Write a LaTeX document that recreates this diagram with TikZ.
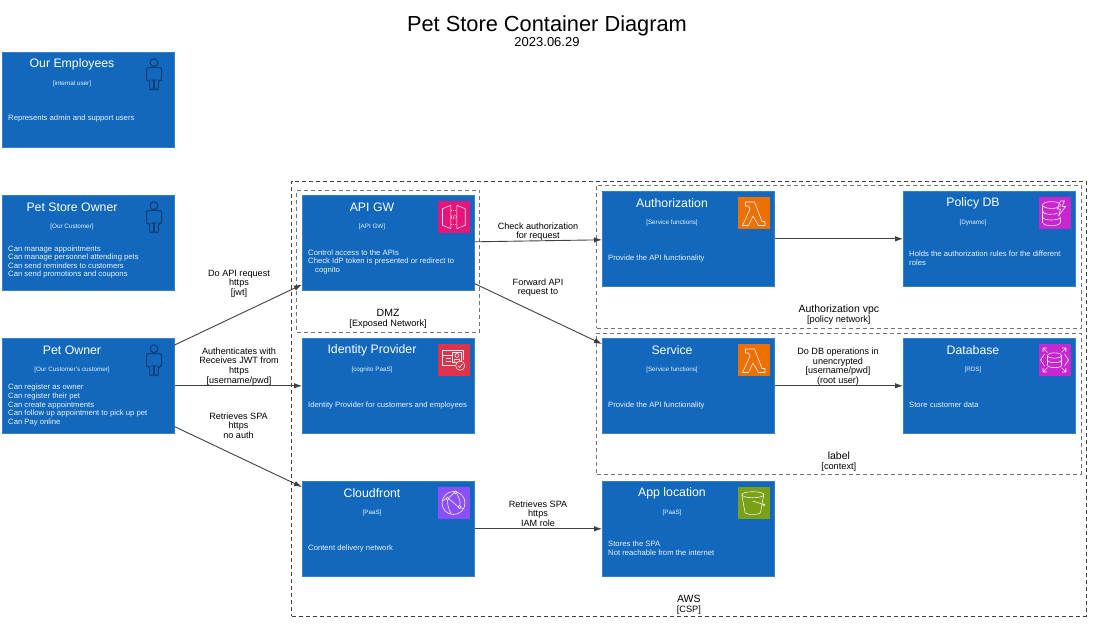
\documentclass[tikz,border=0pt]{standalone}
\usepackage{fontspec}
\setmainfont{Liberation Sans}
\usetikzlibrary{arrows.meta}
\definecolor{ctblue}{HTML}{1168BD}
\definecolor{ctedge}{HTML}{3C7FC0}
\definecolor{persondark}{HTML}{0B3C73}
\tikzset{
  ctbox/.style={draw=ctedge, fill=ctblue, line width=0.4pt, anchor=north west, outer sep=0pt,
    inner sep=0pt, minimum width=172.6pt, minimum height=95.6pt},
  cttitle/.style={text=white, inner sep=0pt, font=\fontsize{12.3}{15}\selectfont},
  cttech/.style={text=white!92!ctblue, inner sep=0pt, font=\fontsize{6.3}{7}\selectfont},
  ctdesc/.style={text=white!92!ctblue, inner sep=0pt, anchor=west, align=left, font=\fontsize{7.7}{8.6}\selectfont},
  edgelabel/.style={inner sep=0pt, align=center, font=\fontsize{9.1}{9.7}\selectfont},
  bndlabel/.style={inner sep=0pt, align=center, font=\fontsize{10.5}{10.2}\selectfont},
  boundary/.style={draw=#1, dashed, dash pattern=on 4pt off 3pt, line width=0.6pt, anchor=north west,
    outer sep=0pt, inner sep=0pt},
  boundary/.default=black!75,
  rel/.style={draw=black!75, line width=0.9pt, -{Latex[length=8pt,width=5.5pt]}},
  glyph/.style={draw=white!88!gray, line width=0.6pt, fill=none, line join=round},
  person/.pic={
    \draw[persondark, line width=1pt, fill=ctblue] (0,10.7) circle (3.9pt);
    \draw[persondark, line width=1pt, rounded corners=2pt] (-7.5,28.5) -- (-7.5,15.5) -- (7.5,15.5) -- (7.5,28.5)
      -- (4.3,28.5) -- (4.3,37.5) -- (0.4,37.5) -- (0.4,28) -- (-0.4,28) -- (-0.4,37.5) -- (-4.3,37.5)
      -- (-4.3,28.5) -- cycle;
  },
  lambdaicon/.pic={
    \fill[fill={rgb,255:red,237;green,113;blue,0}] (0,0) rectangle (32,32);
    \draw[glyph] (8,5) -- (8,9) -- (11,9) -- (12.5,12) -- (5,28.5) -- (11,28.5) -- (15.5,19) -- (21,28.5)
      -- (27.5,28.5) -- (27.5,24.5) -- (24.5,24.5) -- (17,5) -- cycle;
  },
  gatewayicon/.pic={
    \fill[fill={rgb,255:red,231;green,21;blue,123}] (0,0) rectangle (32,32);
    \draw[glyph] (5,7.7) -- (13.3,4.3) -- (13.3,27.7) -- (5,24.3) -- cycle;
    \draw[glyph] (27.7,7.7) -- (19.3,4.3) -- (19.3,27.7) -- (27.7,24.3) -- cycle;
    \draw[glyph, dash pattern=on 1pt off 1pt] (13.3,9.3) -- (19.3,9.3) (13.3,23) -- (19.3,23);
    \draw[glyph, line width=0.5pt] (14.5,14.5) -- (13.3,16) -- (14.5,17.5) (18,14.5) -- (19.3,16) -- (18,17.5)
      (16.8,14) -- (15.6,18);
  },
  dynamoicon/.pic={
    \fill[fill={rgb,255:red,201;green,37;blue,209}] (0,0) rectangle (32,32);
    \draw[glyph] (13,8) ellipse [x radius=9, y radius=3.4];
    \draw[glyph] (4,8) -- (4,25) .. controls (4,30) and (22,30) .. (22,25) -- (22,21);
    \draw[glyph] (4,14) .. controls (4,18) and (16,18) .. (19,16);
    \draw[glyph] (4,20) .. controls (4,24) and (22,24) .. (22,20);
    \draw[glyph] (22,4) -- (18.5,12) -- (22,12) -- (20,19) -- (27,9.5) -- (23.5,9.5) -- (26,4) -- cycle;
  },
  identityicon/.pic={
    \fill[fill={rgb,255:red,221;green,52;blue,76}] (0,0) rectangle (32,32);
    \draw[glyph] (19,21) -- (5,21) -- (5,6) -- (26,6) -- (26,16);
    \draw[glyph] (5,11) -- (14,11) (8,14.5) -- (13,14.5) (8,17) -- (13,17);
    \draw[glyph] (15,8.5) rectangle (24,18);
    \draw[glyph] (19.5,11.5) circle (2pt) (16.5,18) -- (17,15.5) -- (22,15.5) -- (22.5,18);
    \draw[glyph, fill={rgb,255:red,221;green,52;blue,76}] (22.7,21.7) circle (4.6pt);
    \draw[glyph] (20.5,21.7) -- (22.2,23.5) -- (25,20);
  },
  rdsicon/.pic={
    \fill[fill={rgb,255:red,201;green,37;blue,209}] (0,0) rectangle (32,32);
    \draw[glyph] (16,11.5) ellipse [x radius=7, y radius=2.7];
    \draw[glyph] (9,11.5) -- (9,21) .. controls (9,24.5) and (23,24.5) .. (23,21) -- (23,11.5);
    \draw[glyph] (9,16) .. controls (9,19.5) and (23,19.5) .. (23,16);
    \draw[glyph] (6,10) -- (2,16) -- (6,22) (26,10) -- (30,16) -- (26,22);
    \draw[glyph] (9,8.5) -- (4.5,4) (4.5,8) -- (4.5,4) -- (8.5,4);
    \draw[glyph] (23,8.5) -- (27.5,4) (23.5,4) -- (27.5,4) -- (27.5,8);
    \draw[glyph] (9,23.5) -- (4.5,28) (4.5,24) -- (4.5,28) -- (8.5,28);
    \draw[glyph] (23,23.5) -- (27.5,28) (23.5,28) -- (27.5,28) -- (27.5,24);
  },
  cloudicon/.pic={
    \fill[fill={rgb,255:red,140;green,79;blue,255}] (0,0) rectangle (32,32);
    \draw[glyph] (16,16) circle (11.5pt);
    \draw[glyph] (18,5.3) circle (1.6pt) (10,11.7) circle (1.6pt) (22,20) circle (1.6pt);
    \draw[glyph] (16.6,6) -- (11.3,10.6) (11.7,12) -- (20.3,19.4) (19.2,6.5) .. controls (22,11) and (23,15) .. (22.4,18.4)
      (4.8,14) -- (8.4,11.7) (10,13.3) .. controls (10,18) and (11,23) .. (14,27.2) (23.3,21) -- (26.6,21.5);
  },
  bucketicon/.pic={
    \fill[fill={rgb,255:red,122;green,161;blue,22}] (0,0) rectangle (32,32);
    \draw[glyph] (15.3,7.7) ellipse [x radius=11, y radius=3];
    \draw[glyph] (4.3,7.7) -- (7.5,25.5) .. controls (8.5,28) and (22,28) .. (23,25.5) -- (26.3,7.7);
    \draw[glyph] (15,14) -- (26,17.5);
    \draw[glyph] (26.3,17.8) circle (1pt);
  },
}
\begin{document}
\begin{tikzpicture}[x=1pt, y=-1pt]
  \useasboundingbox (0,0) rectangle (1094,625);
  % boundaries
  \node[boundary, minimum width=794.3pt, minimum height=435pt] (aws) at (291.7,181) {};
  \node[boundary=black!55, minimum width=183pt, minimum height=142pt] (dmz) at (296.6,190) {};
  \node[boundary=black!55, minimum width=484.3pt, minimum height=143pt] (authvpc) at (596.7,185) {};
  \node[boundary=black!55, minimum width=484.3pt, minimum height=141pt] (context) at (596.7,333) {};
  \node[bndlabel] (aws-label) at ([yshift=11.5pt]aws.south) {AWS\\{\fontsize{9.2}{9}\selectfont[CSP]}};
  \node[bndlabel] (dmz-label) at ([yshift=13.5pt]dmz.south) {DMZ\\{\fontsize{9.2}{9}\selectfont[Exposed Network]}};
  \node[bndlabel] (authvpc-label) at ([yshift=13pt]authvpc.south) {Authorization vpc\\{\fontsize{9.2}{9}\selectfont[policy network]}};
  \node[bndlabel] (context-label) at ([yshift=12pt]context.south) {label\\{\fontsize{9.2}{9}\selectfont[context]}};
  % containers
  \foreach \nm/\xx/\yy/\ttl/\tech/\desc in {
    employees/2/52/{Our Employees}/{[internal user]}/{Represents admin and support users},
    storeowner/2/195/{Pet Store Owner}/{[Our Customer]}/{Can manage appointments\\Can manage personnel attending pets\\Can send reminders to customers\\Can send promotions and coupons},
    petowner/2/338/{Pet Owner}/{[Our Customer's customer]}/{Can register as owner\\Can register their pet\\Can create appointments\\Can follow up appointment to pick up pet\\Can Pay online},
    apigw/302/195/{API GW}/{[API GW]}/{Control access to the APIs\\Check IdP token is presented or redirect to\\\hspace*{7pt}cognito},
    identity/302/338/{Identity Provider}/{[cognito PaaS]}/{Identity Provider for customers and employees},
    cloudfront/302/481/{Cloudfront}/{[PaaS]}/{Content delivery network},
    authz/602/191/{Authorization}/{[Service functions]}/{Provide the API functionality},
    policydb/903/191/{Policy DB}/{[Dynamo]}/{Holds the authorization rules for the different\\roles},
    service/602/338/{Service}/{[Service functions]}/{Provide the API functionality},
    database/903/338/{Database}/{[RDS]}/{Store customer data},
    applocation/602/481/{App location}/{[PaaS]}/{Stores the SPA\\Not reachable from the internet}%
  } {
    \node[ctbox] (\nm) at (\xx,\yy) {};
    \node[cttitle] (\nm-title) at ([xshift=70pt,yshift=-12pt]\nm.north west) {\ttl};
    \node[cttech] (\nm-tech) at ([xshift=70pt,yshift=-31.5pt]\nm.north west) {\tech};
    \node[ctdesc] (\nm-desc) at ([xshift=6pt,yshift=-67pt]\nm.north west) {\desc};
  }
  % icons
  \foreach \nm in {employees, storeowner, petowner}
    \pic at ([xshift=152pt]\nm.north west) {person};
  \pic at ([xshift=135.5pt,yshift=-6pt]apigw.north west) {gatewayicon};
  \pic at ([xshift=135.5pt,yshift=-6pt]identity.north west) {identityicon};
  \pic at ([xshift=135.5pt,yshift=-6pt]cloudfront.north west) {cloudicon};
  \pic at ([xshift=135.5pt,yshift=-6pt]authz.north west) {lambdaicon};
  \pic at ([xshift=135.5pt,yshift=-6pt]service.north west) {lambdaicon};
  \pic at ([xshift=135.5pt,yshift=-6pt]policydb.north west) {dynamoicon};
  \pic at ([xshift=135.5pt,yshift=-6pt]database.north west) {rdsicon};
  \pic at ([xshift=135.5pt,yshift=-6pt]applocation.north west) {bucketicon};
  % relations
  \draw[rel] ([yshift=-7pt]petowner.north east) -- ([yshift=6pt]apigw.south west);
  \draw[rel] (petowner.east) -- (identity.west);
  \draw[rel] ([yshift=7pt]petowner.south east) -- ([yshift=-6pt]cloudfront.north west);
  \draw[rel] ([yshift=1pt]apigw.east) -- ([yshift=-1pt]authz.west);
  \draw[rel] ([yshift=7pt]apigw.south east) -- ([yshift=-6pt]service.north west);
  \draw[rel] (authz.east) -- (policydb.west);
  \draw[rel] (service.east) -- (database.west);
  \draw[rel] (cloudfront.east) -- (applocation.west);
  % relation labels
  \node[edgelabel] (req-label) at (239,283.7) {Do API request\\https\\{[jwt]}};
  \node[edgelabel] (jwt-label) at (239,366.2) {Authenticates with\\Receives JWT from\\https\\{[username/pwd]}};
  \node[edgelabel] (spa-label) at (238.5,425.7) {Retrieves SPA\\https\\no auth};
  \node[edgelabel] (check-label) at (538,231.7) {Check authorization\\for request};
  \node[edgelabel] (forward-label) at (538,287.7) {Forward API\\request to};
  \node[edgelabel] (dbops-label) at (838,366.7) {Do DB operations in\\unencrypted\\{[username/pwd]}\\(root user)};
  \node[edgelabel] (iam-label) at (538,513.7) {Retrieves SPA\\https\\IAM role};
  % title
  \node[inner sep=0pt, font=\fontsize{21.8}{24}\selectfont] (title) at (547,25.5) {Pet Store Container Diagram};
  \node[inner sep=0pt, font=\fontsize{13}{14}\selectfont] (version) at (547,42.5) {2023.06.29};
\end{tikzpicture}
\end{document}
